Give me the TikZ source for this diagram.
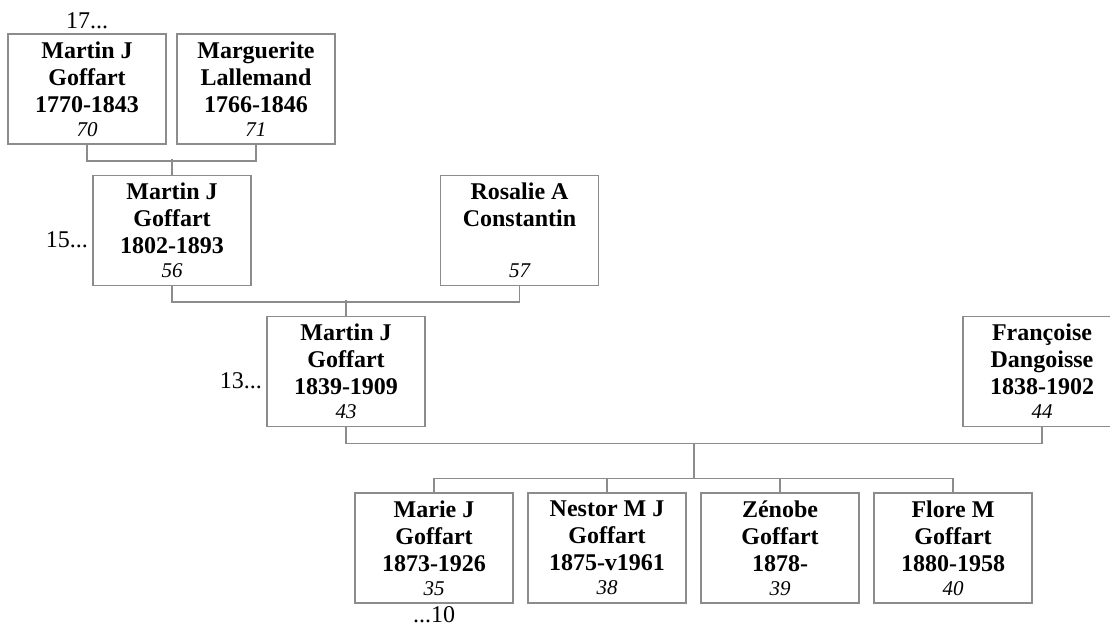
\documentclass[tikz,border=0pt]{standalone}
\usepackage{fontspec}
\setmainfont{Liberation Serif}
\usetikzlibrary{calc}
\definecolor{boxgray}{RGB}{140,140,140}
\newcommand{\gen}[1]{\\[-1.5pt]{\fontsize{10.5}{12}\selectfont\mdseries\itshape #1}}
\begin{document}
\begin{tikzpicture}[x=0.5pt,y=-0.5pt,
	persbox/.style={draw=boxgray,line width=0.8pt,rectangle,minimum width=79pt,minimum height=55pt,inner sep=0pt,align=center,font=\fontsize{12}{13.5}\selectfont\bfseries},
	link/.style={draw=boxgray,line width=0.8pt},
	genlabel/.style={font=\fontsize{12}{13.5}\selectfont,inner sep=2pt}]
		\useasboundingbox (0,0) rectangle (1110,626);
		
		% generation 70/71
		\node[persbox] (g70) at (87,89) {Martin J\\Goffart\\1770-1843\gen{70}};
		\node[persbox] (g71) at (256,89) {Marguerite\\Lallemand\\1766-1846\gen{71}};
		\node[genlabel,anchor=south] (l17) at (g70.north) {17...};
		
		% generation 56/57
		\node[persbox] (g56) at (172,230.5) {Martin J\\Goffart\\1802-1893\gen{56}};
		\node[persbox] (g57) at (519.5,230.5) {Rosalie A\\Constantin\\~\gen{57}};
		\node[genlabel,anchor=east] (l15) at ($(g56.west)+(0,9)$) {15...};
		
		% generation 43/44
		\node[persbox] (g43) at (346,371.5) {Martin J\\Goffart\\1839-1909\gen{43}};
		\node[persbox] (g44) at (1042,371.5) {Françoise\\Dangoisse\\1838-1902\gen{44}};
		\node[genlabel,anchor=east] (l13) at ($(g43.west)+(0,9)$) {13...};
		
		% children
		\node[persbox] (g35) at (434,548) {Marie J\\Goffart\\1873-1926\gen{35}};
		\node[persbox] (g38) at (607,548) {Nestor M J\\Goffart\\1875-v1961\gen{38}};
		\node[persbox] (g39) at (780,548) {Zénobe\\Goffart\\1878-\gen{39}};
		\node[persbox] (g40) at (953,548) {Flore M\\Goffart\\1880-1958\gen{40}};
		\node[genlabel,anchor=north,inner sep=1pt] (l10) at (g35.south) {...10};
		
		% couples
		\draw[link] (g70.south) -- ++(0,16) -| (g71.south);
		\draw[link] (g56.north) -- ++(0,-16);
		\draw[link] (g56.south) -- ++(0,16) -| (g57.south);
		\draw[link] (g43.north) -- ++(0,-16);
		\draw[link] (g43.south) -- ++(0,16) -| (g44.south);
		\coordinate (m43) at ($(g43.south)!.5!(g44.south)+(0,16)$);
		\draw[link] (m43) -- ++(0,35) coordinate (k43);
		\draw[link] (g35.north) |- (k43) -| (g40.north);
		\draw[link] (g38.north) -- (g38.north |- k43);
		\draw[link] (g39.north) -- (g39.north |- k43);
		
\end{tikzpicture}
\end{document}
